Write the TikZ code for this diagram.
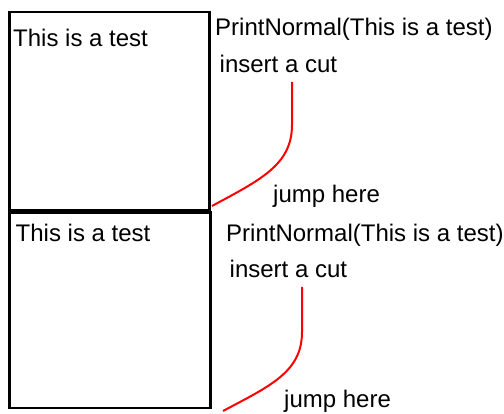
\documentclass[tikz,border=0pt]{standalone}
\usepackage{fontspec}
\setmainfont{Liberation Sans}

\begin{document}
\begin{tikzpicture}[
      x=1pt, y=-1pt,
      frame/.style={draw, line width=2.5pt, anchor=north west, inner sep=0pt},
      lbl/.style={anchor=base west, inner sep=0pt, font=\fontsize{24pt}{28pt}\selectfont},
      cut/.style={draw=red, line width=2pt},
    ]
    \useasboundingbox (0,0) rectangle (504,414);
    % upper block
    \node[frame, minimum width=200pt, minimum height=198pt] (upper) at (8,11) {};
    \node[lbl] (text1) at (13,47) {This is a test};
    \node[lbl] (call1) at (215,36) {PrintNormal(This is a test)};
    \node[lbl] (ins1) at (219.5,73) {insert a cut};
    \node[lbl] (jump1) at (273,203) {jump here};
    \coordinate (from1) at (292,82);
    \coordinate (bend1) at (292,125);
    \coordinate (to1) at (212,206);
    \draw[cut] (from1) -- (bend1) .. controls (292,165) and (260,180) .. (to1);
    % lower block
    \node[frame, minimum width=201pt, minimum height=195.5pt] (lower) at (8,211.5) {};
    \node[lbl] (text2) at (15.5,242) {This is a test};
    \node[lbl] (call2) at (226,242) {PrintNormal(This is a test)};
    \node[lbl] (ins2) at (229.5,278) {insert a cut};
    \node[lbl] (jump2) at (284,407) {jump here};
    \coordinate (from2) at (302,287);
    \coordinate (bend2) at (302,332);
    \coordinate (to2) at (223,411);
    \draw[cut] (from2) -- (bend2) .. controls (302,372) and (270,386) .. (to2);
  \end{tikzpicture}
\end{document}
